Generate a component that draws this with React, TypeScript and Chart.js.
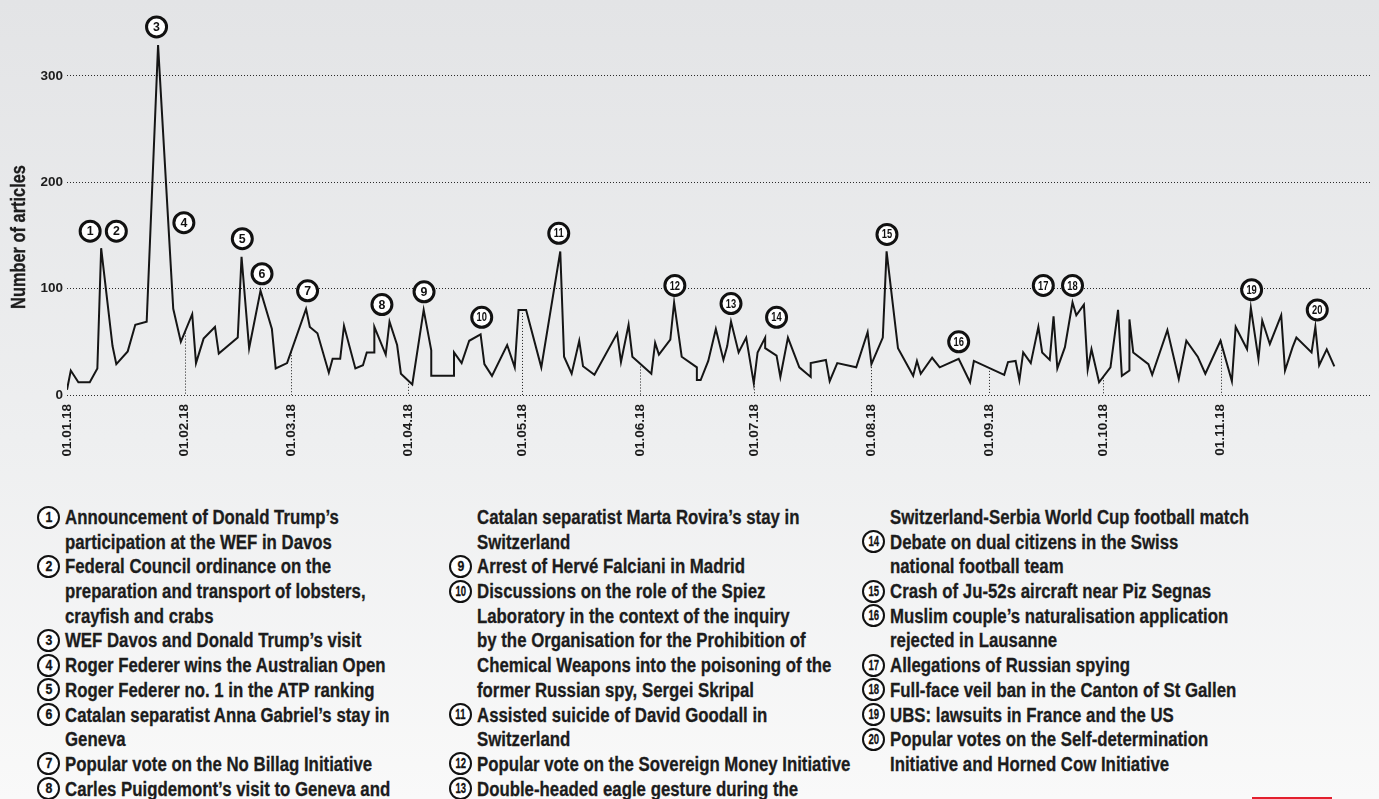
import React, { useEffect, useRef } from "react";
import { Chart, registerables } from "chart.js";

Chart.register(...registerables);

// ---- data (day index from 01.01.2018, number of articles) ----
const days = [
  0, 1, 3, 6, 8, 9, 12, 13, 16, 18, 21, 24, 28, 30, 33, 34, 36, 39, 40, 45,
  46, 48, 51, 54, 55, 58, 63, 64, 66, 69, 70, 72, 73, 76, 78, 79, 81, 81, 84, 85,
  87, 88, 91, 94, 96, 96, 102, 102, 104, 106, 109, 110, 112, 116, 118, 119, 121, 125, 130, 131,
  133, 135, 136, 139, 145, 146, 148, 149, 154, 155, 156, 159, 160, 162, 166, 166, 167, 169, 171, 173,
  174, 175, 177, 179, 181, 182, 184, 184, 187, 188, 190, 193, 196, 196, 200, 201, 203, 208, 211, 212,
  215, 216, 219, 223, 224, 225, 228, 230, 235, 238, 239, 247, 248, 250, 251, 252, 254, 256, 257, 259,
  260, 261, 263, 265, 266, 268, 269, 270, 272, 275, 277, 278, 280, 280, 281, 285, 286, 290, 293, 295,
  298, 300, 304, 307, 308, 311, 312, 314, 315, 317, 320, 321, 323, 324, 328, 329, 330, 332, 334,
];
const counts = [
  5, 23, 12, 12, 25, 138, 46, 29, 41, 66, 69, 329, 81, 50, 76, 30, 53, 64, 39, 54,
  130, 44, 98, 62, 25, 30, 81, 64, 58, 21, 34, 34, 65, 25, 28, 40, 40, 64, 38, 69,
  47, 20, 10, 80, 42, 18, 18, 40, 30, 51, 57, 29, 18, 47, 26, 80, 80, 26, 135, 36,
  20, 51, 27, 19, 58, 31, 66, 36, 20, 49, 38, 52, 87, 36, 26, 14, 14, 32, 62, 33,
  46, 69, 40, 54, 11, 40, 54, 44, 37, 17, 54, 26, 17, 30, 33, 13, 30, 26, 59, 29,
  54, 135, 44, 18, 32, 20, 35, 26, 34, 12, 32, 19, 31, 32, 14, 40, 30, 64, 40, 33,
  74, 25, 45, 87, 75, 85, 24, 43, 12, 26, 80, 18, 23, 71, 40, 29, 19, 61, 15, 51,
  36, 20, 51, 13, 64, 43, 82, 34, 70, 48, 75, 23, 45, 54, 40, 64, 28, 43, 27,
];

const tickDays = [0, 31, 59, 90, 120, 151, 181, 212, 243, 273, 304];
const tickLabels = [
  "01.01.18", "01.02.18", "01.03.18", "01.04.18", "01.05.18", "01.06.18",
  "01.07.18", "01.08.18", "01.09.18", "01.10.18", "01.11.18",
];
const yTicks = [0, 100, 200, 300];

// event markers: number, day, level (in articles) of the marker centre
const eventNumbers = [1, 2, 3, 4, 5, 6, 7, 8, 9, 10, 11, 12, 13, 14, 15, 16, 17, 18, 19, 20];
const eventDays = [6.1, 13, 23.6, 30.8, 46.2, 51.4, 63.4, 83, 94.1, 109.3, 129.6, 160.2, 175, 187, 216.1, 235, 257.3, 265, 312.2, 329.5];
const eventLevels = [154, 154, 346, 162, 147, 114, 98, 85, 97, 73, 152, 103, 86, 73, 151, 50, 103, 103, 99, 80];

type LegendItem = { n: number | null; lines: string[] };
const legendCol1: LegendItem[] = [
  { n: 1, lines: ["Announcement of Donald Trump\u2019s", "participation at the WEF in Davos"] },
  { n: 2, lines: ["Federal Council ordinance on the", "preparation and transport of lobsters,", "crayfish and crabs"] },
  { n: 3, lines: ["WEF Davos and Donald Trump\u2019s visit"] },
  { n: 4, lines: ["Roger Federer wins the Australian Open"] },
  { n: 5, lines: ["Roger Federer no. 1 in the ATP ranking"] },
  { n: 6, lines: ["Catalan separatist Anna Gabriel\u2019s stay in", "Geneva"] },
  { n: 7, lines: ["Popular vote on the No Billag Initiative"] },
  { n: 8, lines: ["Carles Puigdemont\u2019s visit to Geneva and"] },
];
const legendCol2: LegendItem[] = [
  { n: null, lines: ["Catalan separatist Marta Rovira\u2019s stay in", "Switzerland"] },
  { n: 9, lines: ["Arrest of Herv\u00e9 Falciani in Madrid"] },
  { n: 10, lines: ["Discussions on the role of the Spiez", "Laboratory in the context of the inquiry", "by the Organisation for the Prohibition of", "Chemical Weapons into the poisoning of the", "former Russian spy, Sergei Skripal"] },
  { n: 11, lines: ["Assisted suicide of David Goodall in", "Switzerland"] },
  { n: 12, lines: ["Popular vote on the Sovereign Money Initiative"] },
  { n: 13, lines: ["Double-headed eagle gesture during the"] },
];
const legendCol3: LegendItem[] = [
  { n: null, lines: ["Switzerland-Serbia World Cup football match"] },
  { n: 14, lines: ["Debate on dual citizens in the Swiss", "national football team"] },
  { n: 15, lines: ["Crash of Ju-52s aircraft near Piz Segnas"] },
  { n: 16, lines: ["Muslim couple\u2019s naturalisation application", "rejected in Lausanne"] },
  { n: 17, lines: ["Allegations of Russian spying"] },
  { n: 18, lines: ["Full-face veil ban in the Canton of St Gallen"] },
  { n: 19, lines: ["UBS: lawsuits in France and the US"] },
  { n: 20, lines: ["Popular votes on the Self-determination", "Initiative and Horned Cow Initiative"] },
];

const SANS = '"Liberation Sans", Arial, Helvetica, sans-serif';
const NARROW_SCALE = 0.84;
const INK = "#1c1c1c";

function valueAt(d: number): number {
  for (let i = 0; i < days.length - 1; i++) {
    if (days[i] <= d && d <= days[i + 1]) {
      if (days[i + 1] === days[i]) return counts[i + 1];
      const t = (d - days[i]) / (days[i + 1] - days[i]);
      return counts[i] + t * (counts[i + 1] - counts[i]);
    }
  }
  return 0;
}

const dropLinesPlugin = {
  id: "dropLines",
  beforeDatasetsDraw(chart: any) {
    const { ctx, scales } = chart;
    const x = scales.x;
    const y = scales.y;
    ctx.save();
    ctx.strokeStyle = INK;
    ctx.lineWidth = 1;
    ctx.setLineDash([1, 2]);
    tickDays.forEach((d) => {
      if (d === 0) return;
      const px = Math.round(x.getPixelForValue(d)) + 0.5;
      ctx.beginPath();
      ctx.moveTo(px, y.getPixelForValue(valueAt(d)));
      ctx.lineTo(px, y.getPixelForValue(0));
      ctx.stroke();
    });
    ctx.restore();
  },
};

const markersPlugin = {
  id: "markers",
  afterDatasetsDraw(chart: any) {
    const { ctx, scales } = chart;
    const x = scales.x;
    const y = scales.y;
    ctx.save();
    eventNumbers.forEach((n, i) => {
      const cx = x.getPixelForValue(eventDays[i]);
      const cy = y.getPixelForValue(eventLevels[i]);
      ctx.beginPath();
      ctx.arc(cx, cy, 10, 0, Math.PI * 2);
      ctx.fillStyle = "#ffffff";
      ctx.fill();
      ctx.lineWidth = 3;
      ctx.strokeStyle = "#111";
      ctx.stroke();
      ctx.fillStyle = "#111";
      ctx.textAlign = "center";
      ctx.textBaseline = "middle";
      ctx.font = `bold 13px ${SANS}`;
      ctx.save();
      ctx.translate(cx, cy + 0.5);
      ctx.scale(n < 10 ? 0.95 : 0.72, 1);
      ctx.fillText(String(n), 0, 0);
      ctx.restore();
    });
    ctx.restore();
  },
};

function Circle({ n }: { n: number }) {
  return (
    <span
      style={{
        position: "absolute",
        left: -28,
        top: 0.5,
        width: 23,
        height: 23,
        boxSizing: "border-box",
        border: "2.5px solid #111",
        borderRadius: "50%",
        background: "#fff",
        display: "flex",
        alignItems: "center",
        justifyContent: "center",
      }}
    >
      <span
        style={{
          display: "inline-block",
          fontFamily: SANS,
          fontWeight: 700,
          fontSize: 14,
          lineHeight: "15px",
          color: "#111",
          transform: `scaleX(${n < 10 ? 0.88 : 0.68})`,
        }}
      >
        {n}
      </span>
    </span>
  );
}

function LegendColumn({ items, left }: { items: LegendItem[]; left: number }) {
  return (
    <div
      style={{
        position: "absolute",
        left,
        top: 505,
        fontFamily: SANS,
        fontWeight: 700,
        fontSize: 20,
        lineHeight: "24.7px",
        color: INK,
        whiteSpace: "nowrap",
        WebkitTextStroke: "0.3px #1c1c1c",
      }}
    >
      {items.map((it, i) => (
        <div key={i} style={{ position: "relative" }}>
          {it.n !== null && <Circle n={it.n} />}
          {it.lines.map((l, j) => (
            <div key={j} style={{ height: 24.7 }}>
              <span style={{ display: "inline-block", transform: `scaleX(${NARROW_SCALE})`, transformOrigin: "0 50%" }}>{l}</span>
            </div>
          ))}
        </div>
      ))}
    </div>
  );
}

export default function App() {
  const canvasRef = useRef<HTMLCanvasElement | null>(null);

  useEffect(() => {
    if (!canvasRef.current) return;
    const chart = new Chart(canvasRef.current, {
      type: "line",
      data: {
        datasets: [
          {
            data: days.map((d, i) => ({ x: d, y: counts[i] })),
            borderColor: "#151515",
            borderWidth: 2,
            borderJoinStyle: "miter",
            pointRadius: 0,
            tension: 0,
            fill: false,
          },
        ],
      },
      options: {
        animation: false,
        responsive: false,
        maintainAspectRatio: false,
        events: [],
        layout: { padding: { top: 8, right: 9, left: 0, bottom: 0 } },
        plugins: { legend: { display: false }, tooltip: { enabled: false }, title: { display: false } },
        scales: {
          x: {
            type: "linear",
            min: 0,
            max: 343.4,
            afterBuildTicks: (s: any) => {
              s.ticks = tickDays.map((v) => ({ value: v }));
            },
            afterFit: (s: any) => {
              s.height = 85;
            },
            grid: { display: false, drawTicks: false },
            border: { display: false },
            ticks: {
              autoSkip: false,
              minRotation: 90,
              maxRotation: 90,
              padding: 9,
              color: INK,
              font: { family: SANS, weight: "bold", size: 13.5 },
              callback: (v: any) => {
                const i = tickDays.indexOf(Number(v));
                return i >= 0 ? tickLabels[i] : "";
              },
            },
          },
          y: {
            type: "linear",
            min: 0,
            max: 360,
            afterBuildTicks: (s: any) => {
              s.ticks = yTicks.map((v) => ({ value: v }));
            },
            afterFit: (s: any) => {
              s.width = 67;
            },
            grid: { color: "#2a2a2a", lineWidth: 1, drawTicks: false },
            border: { display: false, dash: [1, 2] },
            ticks: {
              padding: 4,
              color: INK,
              font: { family: SANS, weight: "bold", size: 13.5 },
            },
          },
        },
      },
      plugins: [dropLinesPlugin, markersPlugin],
    } as any);
    return () => chart.destroy();
  }, []);

  return (
    <div
      style={{
        position: "absolute",
        left: 0,
        top: 0,
        width: 1379,
        height: 799,
        overflow: "hidden",
        background: "linear-gradient(to bottom, #e3e4e6 0%, #eeeff0 55%, #f9f9f9 100%)",
      }}
    >
      <canvas ref={canvasRef} width={1379} height={480} style={{ position: "absolute", left: 0, top: 0, width: 1379, height: 480 }} />
      <div
        style={{
          position: "absolute",
          left: 18 - 100,
          top: 237 - 12,
          width: 200,
          height: 24,
          lineHeight: "24px",
          textAlign: "center",
          transform: `rotate(-90deg) scaleX(${NARROW_SCALE})`,
          transformOrigin: "50% 50%",
          fontFamily: SANS,
          fontWeight: 700,
          fontSize: 19.5,
          color: INK,
          whiteSpace: "nowrap",
          WebkitTextStroke: "0.3px #1c1c1c",
        }}
      >
        Number of articles
      </div>
      <LegendColumn items={legendCol1} left={65} />
      <LegendColumn items={legendCol2} left={477} />
      <LegendColumn items={legendCol3} left={890} />
      <div style={{ position: "absolute", left: 1252, top: 797, width: 80, height: 4, background: "#e31f2d" }} />
    </div>
  );
}
